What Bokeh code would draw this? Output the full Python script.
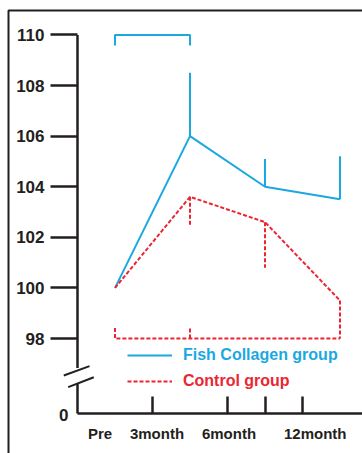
from bokeh.plotting import figure
from bokeh.models import Range1d, FixedTicker, Legend, LegendItem, Label
from bokeh.embed import file_html
from bokeh.resources import INLINE

# Time points and measured values (Pre = 100)
months = ["Pre", "3month", "6month", "12month"]
x_pos = [0, 1, 2, 3]
fish = [100.0, 106.0, 104.0, 103.5]
control = [100.0, 103.6, 102.6, 99.5]

# One-sided error bars (upper for fish collagen, lower for control)
fish_err_top = [108.5, 105.1, 105.2]
control_err_bottom = [102.5, 100.8, 98.0]
err_x = [1, 2, 3]

# Significance brackets
fish_bracket_y = 110.0
control_bracket_y = 98.0
bracket_leg = 0.42

# Axis ticks and labels
y_ticks = [98, 100, 102, 104, 106, 108, 110]
zero_pos = 95.04            # where "0" sits below the axis break
break_top, break_bottom = 96.83, 96.21
x_label_pos = [-0.2, 0.56, 1.52, 2.67]
x_tick_pos = [0.5, 1.5, 2.0, 2.5]
axis_x = -0.5

BLUE = "#1ba8e1"
RED = "#ec2533"
INK = "#231f20"
FONT = "Liberation Sans"

W, H = 362, 453
PX_X, PX_Y = 75.0, 25.3          # pixels per data unit
X0_PX, Y_TOP = 114.5, 111.36     # canvas position of x=0, value at the top edge
x_range = Range1d(-X0_PX / PX_X, (W - X0_PX) / PX_X)
y_range = Range1d(Y_TOP - H / PX_Y, Y_TOP)

def px_x(px):
    return x_range.start + px / PX_X

def px_y(py):
    return Y_TOP - py / PX_Y

p = figure(width=W, height=H, output_backend="svg", toolbar_location=None,
           x_range=x_range, y_range=y_range,
           min_border_left=0, min_border_bottom=0, min_border_top=0, min_border_right=0)
p.grid.visible = False
p.outline_line_color = None
p.background_fill_color = "white"
p.border_fill_color = "white"

# x axis drawn at the zero line, labels sitting between the tick marks
xa = p.xaxis[0]
xa.fixed_location = zero_pos
xa.ticker = FixedTicker(ticks=x_label_pos, minor_ticks=x_tick_pos)
xa.major_label_overrides = {k: v for k, v in zip(x_label_pos, months)}
xa.major_tick_in = 0
xa.major_tick_out = 0
xa.minor_tick_in = 17
xa.minor_tick_out = 0
xa.minor_tick_line_width = 2.5
xa.minor_tick_line_color = INK
xa.axis_line_width = 2.5
xa.axis_line_color = INK
xa.bounds = (axis_x, x_range.end)
xa.major_label_standoff = 12
xa.major_label_text_font = FONT
xa.major_label_text_font_style = "bold"
xa.major_label_text_font_size = "15px"
xa.major_label_text_color = INK

# y axis: ticks and labels; its line is drawn below so the break can be shown
ya = p.yaxis[0]
ya.fixed_location = axis_x
ya.ticker = FixedTicker(ticks=y_ticks)
ya.major_tick_in = 0
ya.major_tick_out = 27
ya.minor_tick_in = 0
ya.minor_tick_out = 0
ya.major_tick_line_width = 2.5
ya.major_tick_line_color = INK
ya.axis_line_color = None
ya.major_label_standoff = 6
ya.major_label_text_font = FONT
ya.major_label_text_font_style = "bold"
ya.major_label_text_font_size = "17px"
ya.major_label_text_color = INK

# y axis line as thin filled bars, upper and lower pieces around the break
half = 1.25 / PX_X
p.quad(left=[axis_x - half, axis_x - half], right=[axis_x + half, axis_x + half],
       top=[110, break_bottom], bottom=[break_top, zero_pos],
       fill_color=INK, line_color=None)

# break marks
p.segment(x0=[-0.683, -0.624], y0=[96.54, 96.08], x1=[-0.34, -0.283], y1=[96.91, 96.47],
          line_color=INK, line_width=2)
p.add_layout(Label(x=-0.62, y=zero_pos, text="0", x_units="data", y_units="data",
                   text_align="right", text_baseline="middle", y_offset=-2,
                   text_font=FONT, text_font_style="bold", text_font_size="17px",
                   text_color=INK))

# Fish collagen group
fish_line = p.line(x_pos, fish, line_color=BLUE, line_width=2)
p.segment(x0=err_x, y0=fish[1:], x1=err_x, y1=fish_err_top, line_color=BLUE, line_width=2)
p.line([x_pos[0], x_pos[0], x_pos[1], x_pos[1]],
       [fish_bracket_y - bracket_leg, fish_bracket_y, fish_bracket_y, fish_bracket_y - bracket_leg],
       line_color=BLUE, line_width=2)

# Control group
ctrl_line = p.line(x_pos, control, line_color=RED, line_width=2, line_dash="4 2")
p.segment(x0=err_x, y0=control[1:], x1=err_x, y1=control_err_bottom,
          line_color=RED, line_width=2, line_dash="4 2")
p.line([x_pos[0], x_pos[0], x_pos[3]],
       [control_bracket_y + bracket_leg, control_bracket_y, control_bracket_y],
       line_color=RED, line_width=2, line_dash="4 2")
p.segment(x0=[x_pos[1]], y0=[control_bracket_y], x1=[x_pos[1]], y1=[control_bracket_y + bracket_leg],
          line_color=RED, line_width=2, line_dash="4 2")

def make_legend(label, renderer, color, y):
    lg = Legend(items=[LegendItem(label=label, renderers=[renderer])], location=(127, y),
                orientation="vertical", glyph_width=45, glyph_height=20, label_height=20,
                label_standoff=11, padding=0, margin=0, spacing=0,
                border_line_color=None, background_fill_alpha=0,
                label_text_font=FONT, label_text_font_style="bold",
                label_text_font_size="16px", label_text_color=color)
    p.add_layout(lg)

make_legend("Fish Collagen group", fish_line, BLUE, 88)
make_legend("Control group", ctrl_line, RED, 62)

# Outer panel border (left and top edges)
p.line([px_x(8), px_x(8), px_x(W + 20)], [px_y(H + 20), px_y(10), px_y(10)],
       line_color=INK, line_width=2)

open("out.html", "w").write(file_html(p, INLINE))
